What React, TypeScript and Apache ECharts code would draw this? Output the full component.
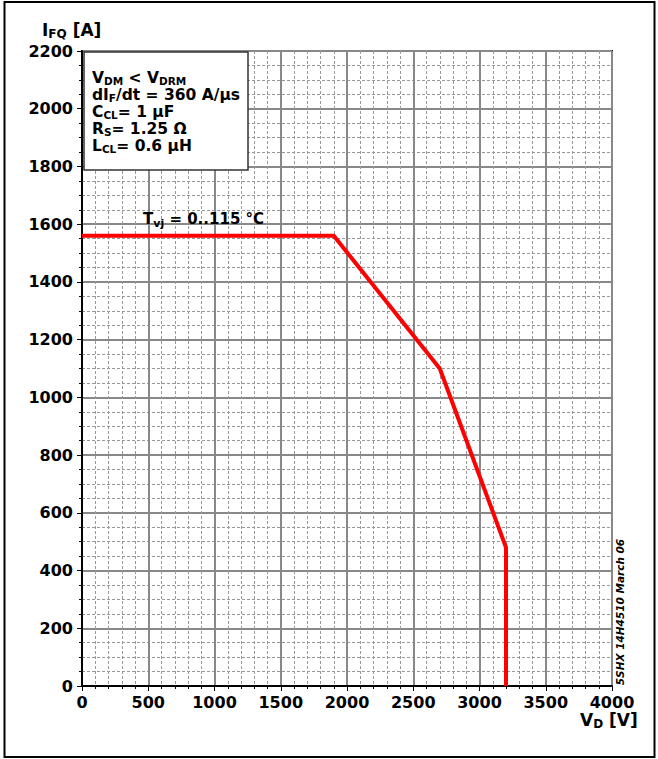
import React, { useEffect, useRef } from "react";
import * as echarts from "echarts";

const xTicks = { min: 0, max: 4000, interval: 500 };
const yTicks = { min: 0, max: 2200, interval: 200 };
const curveV = [0, 1900, 2700, 3200, 3200];
const curveI = [1560, 1560, 1100, 480, 0];
const boxLines = [
  "{m|V}{s|DM}{m| < V}{s|DRM}",
  "{m|dI}{s|F}{m|/dt = 360 A/µs}",
  "{m|C}{s|CL}{m|= 1 µF}",
  "{m|R}{s|S}{m|= 1.25 Ω}",
  "{m|L}{s|CL}{m|= 0.6 µH}",
];
const tempLabel = "{m|T}{s|vj}{m| = 0..115 °C}";
const yName = "{m|I}{s|FQ}{m| [A]}";
const xName = "{m|V}{s|D}{m| [V]}";
const docId = "5SHX 14H4510 March 06";

const FONT = "DejaVu Sans";

function rich(size: number, sub: number, pad: number) {
  return {
    m: { fontSize: size, fontWeight: "bold", fontFamily: FONT, color: "#000", lineHeight: 17 },
    s: { fontSize: sub, fontWeight: "bold", fontFamily: FONT, color: "#000", lineHeight: 6, padding: [pad, 0, 0, 0] },
  };
}

export default function App() {
  const ref = useRef<HTMLDivElement>(null);
  useEffect(() => {
    if (!ref.current) return;
    const chart = echarts.init(ref.current, null, { renderer: "svg" });
    const data = curveV.map((v, i) => [v, curveI[i]]);
    const axisLabel = {
      fontSize: 16,
      fontWeight: "bold",
      fontFamily: FONT,
      color: "#000",
      formatter: (v: number) => String(v),
    };
    chart.setOption({
      animation: false,
      backgroundColor: "#fff",
      grid: { left: 82, top: 51, width: 530, height: 635, show: true, borderColor: "#000", borderWidth: 2, backgroundColor: "#fff" },
      xAxis: {
        type: "value",
        min: xTicks.min,
        max: xTicks.max,
        interval: xTicks.interval,
        axisLine: { show: true, lineStyle: { color: "#000", width: 2 } },
        axisTick: { show: true, length: 5, lineStyle: { color: "#000", width: 1 } },
        minorTick: { show: true, splitNumber: 5, length: 3, lineStyle: { color: "#000", width: 1 } },
        splitLine: { show: true, lineStyle: { color: "#888", width: 2 } },
        minorSplitLine: { show: true, lineStyle: { color: "#999", width: 1, type: [3, 2] } },
        axisLabel: { ...axisLabel, margin: 8 },
      },
      yAxis: {
        type: "value",
        min: yTicks.min,
        max: yTicks.max,
        interval: yTicks.interval,
        axisLine: { show: true, lineStyle: { color: "#000", width: 2 } },
        axisTick: { show: true, length: 5, lineStyle: { color: "#000", width: 1 } },
        minorTick: { show: true, splitNumber: 4, length: 3, lineStyle: { color: "#000", width: 1 } },
        splitLine: { show: true, lineStyle: { color: "#888", width: 2 } },
        minorSplitLine: { show: true, lineStyle: { color: "#999", width: 1, type: [3, 2] } },
        axisLabel: { ...axisLabel, margin: 9 },
      },
      series: [
        {
          type: "line",
          data,
          showSymbol: false,
          symbol: "none",
          lineStyle: { color: "#ff0000", width: 4 },
          z: 5,
        },
      ],
      graphic: [
        {
          type: "rect",
          shape: { x: 4.5, y: 2, width: 650, height: 755 },
          style: { fill: "none", stroke: "#000", lineWidth: 2 },
          z: 100,
          silent: true,
        },
        {
          type: "rect",
          shape: { x: 84, y: 52, width: 164, height: 118 },
          style: { fill: "#fff", stroke: "#333", lineWidth: 1.5 },
          z: 100,
        },
        ...boxLines.map((t, i) => ({
          type: "text",
          x: 92,
          y: 69 + i * 17,
          z: 101,
          style: { text: t, rich: rich(15.5, 10.5, 7), verticalAlign: "top", align: "left" },
        })),
        {
          type: "text",
          x: 143,
          y: 210,
          z: 101,
          style: { text: tempLabel, rich: rich(15, 11, 9), verticalAlign: "top", align: "left" },
        },
        {
          type: "text",
          x: 42,
          y: 21,
          z: 101,
          style: { text: yName, rich: rich(17, 12, 8), verticalAlign: "top", align: "left" },
        },
        {
          type: "text",
          x: 580,
          y: 711,
          z: 101,
          style: { text: xName, rich: rich(17, 12, 9), verticalAlign: "top", align: "left" },
        },
        {
          type: "text",
          x: 620,
          y: 612,
          rotation: Math.PI / 2,
          z: 101,
          style: {
            text: docId,
            fontSize: 10.5,
            fontWeight: "bold",
            fontStyle: "italic",
            fontFamily: FONT,
            fill: "#000",
            align: "center",
            verticalAlign: "middle",
          },
        },
      ],
    });
    return () => chart.dispose();
  }, []);
  return <div ref={ref} style={{ position: "fixed", left: 0, top: 0, width: 658, height: 759 }} />;
}
